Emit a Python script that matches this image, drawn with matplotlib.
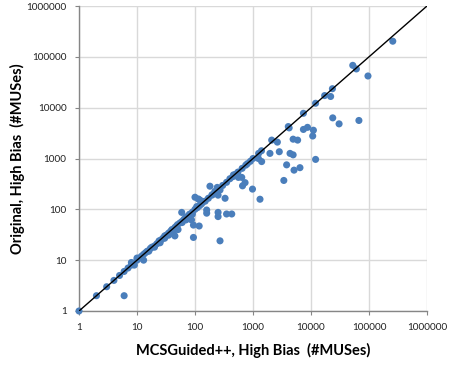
import matplotlib
matplotlib.use("Agg")
import matplotlib.pyplot as plt
import numpy as np

# Data: (MCSGuided++ count, Original count)
x_vals = [1, 2, 3, 4, 5, 6, 7, 8, 8, 9, 10, 10, 11, 12, 13, 14, 15, 16, 17, 18,
          20, 22, 24, 26, 28, 30, 32, 35, 38, 40, 45, 48, 50, 55, 60, 65, 70, 75,
          80, 90, 100, 110, 120, 130, 150, 170, 200, 230, 260, 300, 350, 400, 450,
          500, 550, 650, 750, 800, 900, 1000, 1250, 1400, 2100,
          20, 25, 30, 35, 45, 60, 70, 90, 13, 6,
          42, 45, 51, 94, 118, 94, 59, 80, 87, 100, 122, 139, 107, 114, 159, 159,
          250, 250, 350, 430, 270, 181, 242, 270, 220, 195, 250, 330, 460, 560,
          640, 730, 660, 980, 1320, 1240, 1410, 3400, 3800, 6450, 5100, 12000,
          2840, 4350, 4920, 1960, 2630, 4920, 5880, 4060, 4200, 7400, 8700, 11000,
          10700, 23700, 30500, 67000, 7400, 12000, 17200, 21800, 23400, 52500,
          60600, 96000, 257000]
y_vals = [1, 2, 3, 4, 5, 6, 7, 8, 9, 8, 10, 11, 11, 12, 13, 14, 15, 15, 17, 18,
          19, 21, 24, 25, 27, 30, 31, 34, 37, 40, 44, 47, 50, 54, 58, 64, 70, 73,
          80, 88, 100, 108, 118, 128, 145, 165, 195, 225, 255, 295, 340, 400, 440,
          490, 540, 640, 740, 790, 880, 1000, 1260, 1420, 2300,
          18, 22, 27, 31, 40, 55, 62, 80, 10, 2,
          33, 30, 40, 49, 47, 28, 87, 74, 62, 173, 152, 142, 113, 160, 97, 84,
          87, 72, 81, 81, 24, 285, 270, 240, 225, 190, 190, 165, 475, 425,
          425, 335, 290, 250, 158, 1000, 870, 370, 750, 660, 590, 960,
          1360, 1260, 1180, 1260, 2100, 2400, 2300, 4250, 4000, 3730, 4100, 3600,
          2770, 6300, 4800, 5600, 7750, 12200, 17300, 16600, 23600, 68000,
          57800, 42000, 203000]
ticks = [1, 10, 100, 1000, 10000, 100000, 1000000]
tick_labels = ["1", "10", "100", "1000", "10000", "100000", "1000000"]

plt.rcParams['font.family'] = ['Lato', 'DejaVu Sans']

fig = plt.figure(figsize=(4.49, 3.66), dpi=100)
ax = fig.add_axes([79/449, 1-311/366, (427-79)/449, (311-6)/366])

ax.set_xscale('log')
ax.set_yscale('log')
ax.set_xlim(1, 1e6)
ax.set_ylim(1, 1e6)

ax.scatter(x_vals, y_vals, s=26, color='#4A7EBB', edgecolors='none', zorder=3, clip_on=False)
ax.plot([1, 1e6], [1, 1e6], color='black', lw=1.0, zorder=4)

ax.set_xticks(ticks)
ax.set_xticklabels(tick_labels)
ax.set_yticks(ticks)
ax.set_yticklabels(tick_labels)
ax.minorticks_off()
ax.tick_params(axis='both', which='major', labelsize=7.2, length=3, width=0.8,
               color='#868686', labelcolor='#222222', direction='out', pad=6)

ax.grid(True, which='major', color='#D9D9D9', lw=1.0, zorder=0)
ax.set_axisbelow(True)
for s in ['top', 'right']:
    ax.spines[s].set_visible(False)
for s in ['left', 'bottom']:
    ax.spines[s].set_color('#868686')
    ax.spines[s].set_linewidth(1.0)

ax.set_xlabel("MCSGuided++, High Bias  (#MUSes)", fontsize=10.5, fontweight='bold')
ax.xaxis.set_label_coords(0.5, -(352 + 6 - 311) / 305.0)
ax.xaxis.label.set_va('bottom')
ax.set_ylabel("Original, High Bias  (#MUSes)", fontsize=10.5, fontweight='bold')
ax.yaxis.set_label_coords((25 - 79) / 348.0, 0.5)

fig.savefig("out.png", dpi=100)
